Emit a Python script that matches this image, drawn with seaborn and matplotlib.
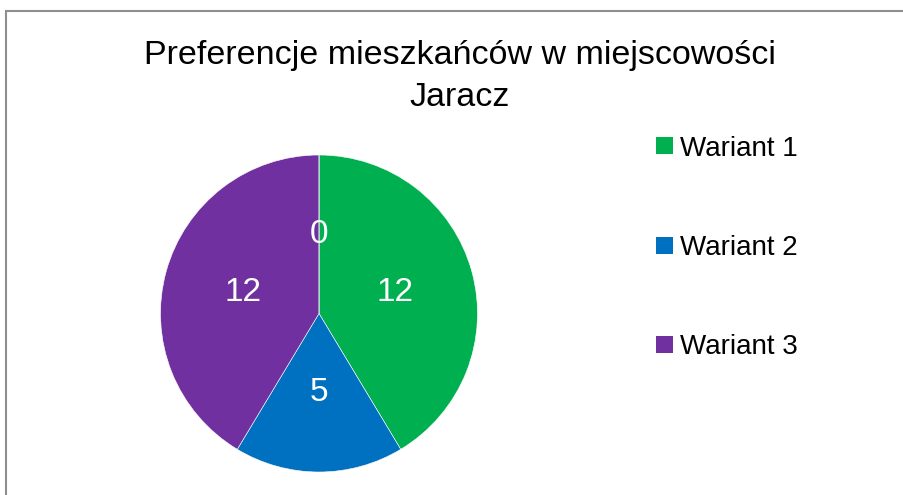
import matplotlib
matplotlib.use("Agg")
import matplotlib.pyplot as plt
import matplotlib.patches as mpatches
import seaborn as sns

# dane z wykresu
categories = ['Wariant 1', 'Wariant 2', 'Wariant 3', '']
values = [12, 5, 12, 0]
colors = ['#00B050', '#0070C0', '#7030A0', '#A5A5A5']
title = 'Preferencje mieszkańców w miejscowości\nJaracz'

sns.set_theme(style='white')
plt.rcParams['font.family'] = ['Liberation Sans', 'DejaVu Sans']
plt.rcParams['text.color'] = 'black'

W, H = 904, 495
fig = plt.figure(figsize=(W / 100, H / 100), dpi=100)

# ramka wykresu (prawa i dolna krawędź poza obrazem)
fig.patches.append(mpatches.Rectangle((6.5 / W, -0.1), 1.2, (H - 10.5) / H + 0.1,
                                      transform=fig.transFigure, fill=False,
                                      edgecolor='#8f8f8f', linewidth=1.5))

cx, cy, r = 319, 313.5, 158.5
ax = fig.add_axes([(cx - r) / W, (H - cy - r) / H, 2 * r / W, 2 * r / H])
palette = sns.color_palette(colors)
wedges, texts = ax.pie(values, labels=[str(v) for v in values], colors=palette,
                       startangle=90, counterclock=False, labeldistance=0.5,
                       wedgeprops=dict(edgecolor='white', linewidth=0.4),
                       textprops=dict(color='white', fontsize=24))
for t in texts:
    t.set_ha('center')
    t.set_va('center')
ax.set_xlim(-1, 1)
ax.set_ylim(-1, 1)
ax.set_aspect('equal')
ax.axis('off')

fig.text(460 / W, 1 - 40 / H, title, ha='center', va='top', fontsize=24.5,
         linespacing=1.45, color='black')

leg = fig.legend(wedges[:3], categories[:3], loc='center left',
                 bbox_to_anchor=(642 / W, 1 - 248 / H), frameon=False,
                 fontsize=20, handlelength=0.61, handleheight=0.58,
                 handletextpad=0.25, labelspacing=2.64, borderpad=0)
for h in leg.legend_handles:
    h.set_edgecolor('none')
for t in leg.get_texts():
    t.set_color('black')

fig.savefig('out.png', dpi=100, facecolor='white')
